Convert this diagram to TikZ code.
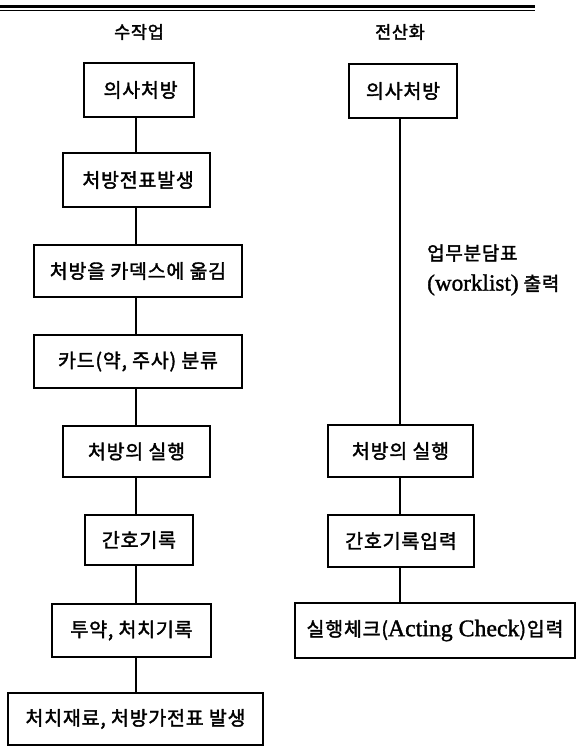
\documentclass[tikz,border=0pt]{standalone}
\usepackage{fontspec}
\setmainfont{Noto Sans CJK KR}[FakeBold=1.8,LetterSpace=4]
\newfontfamily\latin{Liberation Serif}[FakeBold=1.4,Scale=1.22]
\begin{document}
\begin{tikzpicture}[x=1pt,y=-1pt,
  box/.style={draw,line width=1.6pt,inner sep=0pt,font=\fontsize{19.5}{22}\selectfont},
  conn/.style={line width=1.4pt},
  head/.style={font=\fontsize{17.5}{20}\selectfont,inner sep=0pt},
  lbl/.style={font=\fontsize{19}{22}\selectfont,anchor=west,inner sep=0pt}]
\useasboundingbox (0,0) rectangle (576,746);
% top rule
\draw[line width=3pt] (0,6.5) -- (535,6.5);
\draw[line width=1pt] (0,10.5) -- (535,10.5);
% headers
\node[head] (h1) at (139,32) {수작업};
\node[head] (h2) at (400,32) {전산화};
% column axes
\coordinate (lx) at (136,0);
\coordinate (rx) at (400,0);
% left column
\node[box,minimum width=110,minimum height=54] (L1) at (139,90) {\,의사처방};
\node[box,minimum width=147,minimum height=54] (L2) at (136.5,180) {\,처방전표발생};
\node[box,minimum width=208,minimum height=52] (L3) at (138,271) {처방을 카덱스에 옮김};
\node[box,minimum width=208,minimum height=53] (L4) at (138,361.5) {카드(약, 주사) 분류};
\node[box,minimum width=147,minimum height=51] (L5) at (136.5,451.5) {처방의 실행};
\node[box,minimum width=108,minimum height=50] (L6) at (139,540) {간호기록};
\node[box,minimum width=159,minimum height=53] (L7) at (131.5,630.5) {투약, 처치기록};
\node[box,minimum width=255,minimum height=52] (L8) at (135.5,719) {처치재료, 처방가전표 발생};
% right column
\node[box,minimum width=108,minimum height=54] (R1) at (403,91) {의사처방};
\node[box,minimum width=145,minimum height=52] (R2) at (400.5,451) {처방의 실행};
\node[box,minimum width=146,minimum height=52] (R3) at (401,541) {간호기록입력};
\node[box,minimum width=280,minimum height=55] (R4) at (435,630.5) {실행체크({\latin Acting Check})입력};
% label
\node[lbl] (w1) at (427,253) {업무분담표};
\node[lbl] (w2) at (427,285) {{\latin (worklist)} 출력};
% connectors
\foreach \a/\b in {L1/L2,L2/L3,L3/L4,L4/L5,L5/L6,L6/L7,L7/L8}
  \draw[conn] (\a.south -| lx) -- (\b.north -| lx);
\foreach \a/\b in {R1/R2,R2/R3,R3/R4}
  \draw[conn] (\a.south -| rx) -- (\b.north -| rx);
\end{tikzpicture}
\end{document}
